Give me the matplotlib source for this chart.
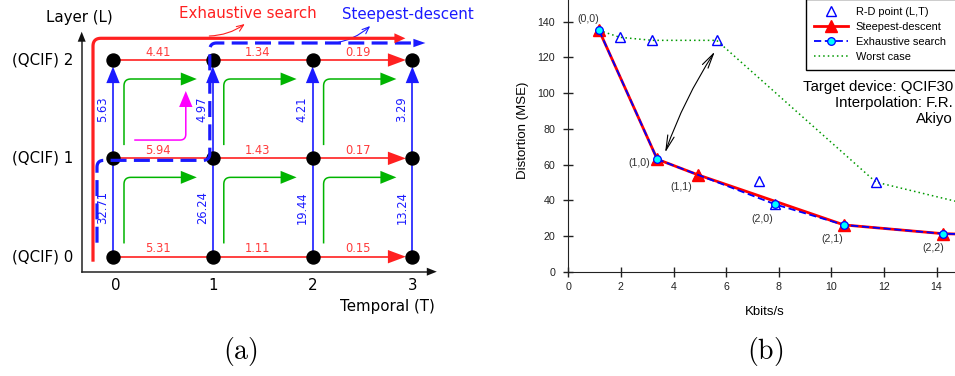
import numpy as np
import matplotlib
matplotlib.use("Agg")
import matplotlib.pyplot as plt
from matplotlib.patches import Polygon

# ---------------- data: panel (a) scalability grid ----------------
temporal = [0, 1, 2, 3]
layers = [0, 1, 2]
layer_names = ["(QCIF) 0", "(QCIF) 1", "(QCIF) 2"]
# distortion drop for a temporal step, one row per layer
gain_t = [[5.31, 1.11, 0.15],
          [5.94, 1.43, 0.17],
          [4.41, 1.34, 0.19]]
# distortion drop for a layer step, one column per temporal level
gain_l = [[32.71, 5.63],
          [26.24, 4.97],
          [19.44, 4.21],
          [13.24, 3.29]]

# ---------------- data: panel (b) R-D points ----------------
rate_l0 = [1.17, 1.96, 3.19, 5.64]
dist_l0 = [135.2, 131.3, 129.6, 129.6]
rate_l1 = [3.38, 4.94, 7.26, 11.69]
dist_l1 = [63.0, 54.2, 50.8, 50.2]
rate_l2 = [7.87, 10.48, 14.24, 20.5]
dist_l2 = [37.7, 26.2, 21.3, 19.0]
steepest = [(0, 0), (1, 0), (1, 1), (2, 1), (2, 2), (2, 3)]
exhaustive = [(0, 0), (1, 0), (2, 0), (2, 1), (2, 2), (2, 3)]
worst = [(0, 0), (0, 1), (0, 2), (0, 3), (1, 3), (2, 3)]
tagged = [(0, 0), (1, 0), (1, 1), (2, 0), (2, 1), (2, 2)]
tag_offsets = [(-7.7, 8.1), (-13.2, -2.9), (-12.5, -8.4),
               (-9.1, -10.4), (-8.4, -10.3), (-6.8, -10.5)]

rates = [rate_l0, rate_l1, rate_l2]
dists = [dist_l0, dist_l1, dist_l2]

W, H = 955, 376
fig = plt.figure(figsize=(W / 100, H / 100), dpi=100)

# ================= panel (a) =================
X0, SX = 113.0, 99.8
Y0, SY = 256.7, 98.35
axa = fig.add_axes([0, 0, 480 / W, 1])
axa.set_xlim(-X0 / SX, (480 - X0) / SX)
axa.set_ylim((Y0 - H) / SY, Y0 / SY)
axa.axis("off")


def at(t, l, dx=0.0, dy=0.0):
    """grid position shifted by pixel offsets (dy positive = up)"""
    return t + dx / SX, l + dy / SY


def rounded(pts, r, n=14):
    P = np.array([[x * SX, y * SY] for x, y in pts])
    out = [P[0]]
    for i in range(1, len(P) - 1):
        a, v, b = P[i - 1], P[i], P[i + 1]
        d1 = (v - a) / np.linalg.norm(v - a)
        d2 = (b - v) / np.linalg.norm(b - v)
        s, e = v - d1 * r, v + d2 * r
        t = np.linspace(0, 1, n)[:, None]
        out.extend((1 - t) ** 2 * s + 2 * (1 - t) * t * v + t ** 2 * e)
    out.append(P[-1])
    out = np.array(out)
    return out[:, 0] / SX, out[:, 1] / SY


def head(ax, tip, direction, length, half, color, z=5):
    tx, ty = tip[0] * SX, tip[1] * SY
    if direction == "right":
        pts = [(tx, ty), (tx - length, ty + half), (tx - length, ty - half)]
    else:
        pts = [(tx, ty), (tx - half, ty - length), (tx + half, ty - length)]
    pts = [(x / SX, y / SY) for x, y in pts]
    ax.add_patch(Polygon(pts, closed=True, color=color, lw=0, zorder=z))


RED = "#ff2020"
RED_T = "#ff3b3b"
BLUE = "#1a1aff"
GREEN = "#00b400"
MAG = "#ff00ff"
DOT_R = 6.5

# axes arrows
ax_x0, ax_y0 = at(0, 0, -31.3, -15)
axa.plot([ax_x0, ax_x0], [ax_y0, at(0, 2, 0, 28.3)[1] - 9 / SY], color="#222222", lw=1.1, zorder=1)
axa.plot([ax_x0, at(3, 0, 24.4, 0)[0] - 9 / SX], [ax_y0, ax_y0], color="#222222", lw=1.1, zorder=1)
head(axa, (ax_x0, at(0, 2, 0, 28.3)[1]), "up", 10, 4, "#111111")
head(axa, (at(3, 0, 24.4, 0)[0], ax_y0), "right", 10, 4, "#111111")

# green elbow arrows inside each cell
for t in temporal[:-1]:
    for l in layers[:-1]:
        gx, gy = rounded([at(t, l, 11, 14), at(t, l + 1, 11, -19), at(t + 1, l + 1, -32, -19)], 7)
        axa.plot(gx, gy, color=GREEN, lw=1.1, zorder=1)
        head(axa, at(t + 1, l + 1, -16, -19), "right", 16, 6.5, GREEN, z=1)

# magenta elbow (temporal first, then layer)
mx, my = rounded([at(0, 1, 22, 18.3), at(1, 1, -27, 18.3), at(1, 2, -27, -46)], 6)
axa.plot(mx, my, color=MAG, lw=1.1, zorder=1)
head(axa, at(1, 2, -27, -31), "up", 16, 6.7, MAG, z=1)

# red temporal steps with values
for l in layers:
    axa.plot([temporal[0], at(temporal[-1], l, -DOT_R - 16)[0]], [l, l], color=RED, lw=1.2, zorder=2)
    head(axa, at(temporal[-1], l, -DOT_R), "right", 18, 6.7, RED, z=2)
    for t in temporal[:-1]:
        x, y = at(t + 0.5, l, -5, 8)
        axa.text(x, y, f"{gain_t[l][t]:.2f}", color=RED_T, fontsize=8.3,
                 ha="center", va="center", zorder=6)

# blue layer steps with values
for t in temporal:
    axa.plot([t, t], [layers[0], at(t, layers[-1], 0, -DOT_R - 14)[1]], color=BLUE, lw=1.2, zorder=2)
    head(axa, at(t, layers[-1], 0, -DOT_R), "up", 16.6, 6.7, BLUE, z=2)
    for l in layers[:-1]:
        x, y = at(t, l + 0.5, -10.5, 0)
        axa.text(x, y, f"{gain_l[t][l]:.2f}", color=BLUE, fontsize=8.3, rotation=90,
                 ha="center", va="center", zorder=6)

# grid nodes
tt, ll = np.meshgrid(temporal, layers)
axa.scatter(tt.ravel(), ll.ravel(), s=(2 * DOT_R * 0.72) ** 2, color="black", zorder=3)

# exhaustive-search route (around the outside)
ex, ey = rounded([at(0, 0, -20, -5), at(0, 2, -20, 21.7), at(3, 2, -14, 21.7)], 8)
axa.plot(ex, ey, color=RED, lw=2.3, zorder=4, solid_capstyle="butt")
head(axa, at(3, 2, -7, 21.7), "right", 11, 5, RED)

# steepest-descent route
sx, sy = rounded([at(0, 0, -16, 14), at(0, 1, -16, -2), at(1, 1, -3, -2),
                  at(1, 2, -3, 17), at(3, 2, 3, 17)], 7)
axa.plot(sx, sy, color=BLUE, lw=2.3, ls=(0, (5, 2.3)), zorder=4, dash_capstyle="butt")
head(axa, at(3, 2, 13, 17), "right", 12, 4.2, BLUE)

# route captions with pointer arrows
axa.text(*at(1.35, 2, 0, 46), "Exhaustive search", color=RED, fontsize=10.8,
         ha="center", va="center")
axa.text(*at(2.95, 2, 0, 46), "Steepest-descent", color=BLUE, fontsize=10.8,
         ha="center", va="center")
axa.annotate("", xy=at(1, 2, 32, 36), xytext=at(1, 2, -3.5, 24),
             arrowprops=dict(arrowstyle="->,head_length=0.5,head_width=0.2", color=RED,
                             lw=0.8, shrinkA=0, shrinkB=0, connectionstyle="arc3,rad=0.15"))
axa.annotate("", xy=at(2, 2, 57.6, 34), xytext=at(2, 2, 21, 16.7),
             arrowprops=dict(arrowstyle="->,head_length=0.5,head_width=0.2", color=BLUE,
                             lw=0.8, shrinkA=0, shrinkB=0, connectionstyle="arc3,rad=0.15"))

# axis annotations
axa.text(*at(0, 2, -34, 43), "Layer (L)", fontsize=10.8, ha="center", va="center")
for l in layers:
    axa.text(*at(0, l, -40, 0), layer_names[l], fontsize=10.8, ha="right", va="center")
for t in temporal:
    axa.text(*at(t, 0, 3 if t == 0 else 0, -28.3), str(t), fontsize=10.8, ha="center", va="center")
axa.text(*at(3, 0, 22.7, -50.3), "Temporal (T)", fontsize=10.8, ha="right", va="center")

# ================= panel (b) =================
plt.rcParams["font.family"] = ["Liberation Sans", "DejaVu Sans"]
axb = fig.add_axes([568.3 / W, (H - 271.7) / H, (W - 568.3) / W, 271.7 / H])
axb.set_xlim(0, 14.7)
axb.set_ylim(0, 152.2)
for s in ("top", "right"):
    axb.spines[s].set_visible(False)
for s in ("left", "bottom"):
    axb.spines[s].set_color("#222222")
axb.set_xticks(np.arange(0, 15, 2))
axb.set_yticks(np.arange(0, 141, 20))
axb.tick_params(direction="inout", length=7, width=1, labelsize=7.7, colors="#222222")
axb.tick_params(axis="y", pad=6)
axb.tick_params(axis="x", pad=4)
for lab in axb.get_xticklabels() + axb.get_yticklabels():
    lab.set_fontfamily("Liberation Sans")


def route(path):
    return [rates[l][t] for l, t in path], [dists[l][t] for l, t in path]


all_r = rate_l0 + rate_l1 + rate_l2
all_d = dist_l0 + dist_l1 + dist_l2
wx, wy = route(worst)
h_worst, = axb.plot(wx, wy, color="#009900", lw=1.1, ls=(0, (1, 2)), zorder=1, label="Worst case")
h_rd, = axb.plot(all_r, all_d, ls="none", marker="^", ms=6.5, mfc="none", mec="#0000ff",
                 mew=1.0, zorder=2, label="R-D point (L,T)")
sx_, sy_ = route(steepest)
h_st, = axb.plot(sx_, sy_, color="#ff0000", lw=2.0, marker="^", ms=8.5, zorder=3,
                 label="Steepest-descent")
ex_, ey_ = route(exhaustive)
h_ex, = axb.plot(ex_, ey_, color="#0000ff", lw=1.3, ls=(0, (4, 2)), marker="o", ms=5.5,
                 mfc="#00ffff", mec="#0000ff", mew=0.9, zorder=4, label="Exhaustive search")
for (l, t), off in zip(tagged, tag_offsets):
    axb.annotate(f"({l},{t})", xy=(rates[l][t], dists[l][t]), xytext=off,
                 textcoords="offset points", fontsize=7.7, color="#333333",
                 ha="center", va="center")

axb.annotate("", xy=(5.57, 123.3), xytext=(3.68, 66.7),
             arrowprops=dict(arrowstyle="<->,head_length=0.9,head_width=0.2",
                             color="black", lw=0.8, shrinkA=0, shrinkB=0,
                             mutation_scale=12, connectionstyle="arc3,rad=-0.06"))

leg = axb.legend(handles=[h_rd, h_st, h_ex, h_worst], loc="upper left",
                 bbox_to_anchor=(806 / W, 1 + 1 / H, 160 / W, 0), mode="expand",
                 bbox_transform=fig.transFigure,
                 fontsize=7.9, frameon=True, fancybox=False, framealpha=1,
                 edgecolor="black", borderaxespad=0, borderpad=0.75,
                 handlelength=3.1, handletextpad=0.7, labelspacing=0.45)
leg.get_frame().set_linewidth(1.0)
leg.set_zorder(10)

fig.text(953 / W, 1 - 103 / H, "Target device: QCIF30\nInterpolation: F.R.\nAkiyo",
         fontsize=10.8, ha="right", va="center", multialignment="right",
         linespacing=1.15, family="Liberation Sans")
fig.text(523 / W, 1 - 130 / H, "Distortion (MSE)", rotation=90, fontsize=9.5,
         ha="center", va="center", family="Liberation Sans")
fig.text(765 / W, 1 - 311.7 / H, "Kbits/s", fontsize=9.5, ha="center", va="center",
         family="Liberation Sans")

# panel captions
fig.text(240 / W, 1 - 351 / H, r"$(\mathrm{a})$", fontsize=20, ha="center", va="center",
         math_fontfamily="cm")
fig.text(765 / W, 1 - 351 / H, r"$(\mathrm{b})$", fontsize=20, ha="center", va="center",
         math_fontfamily="cm")

fig.savefig("out.png", dpi=100)
